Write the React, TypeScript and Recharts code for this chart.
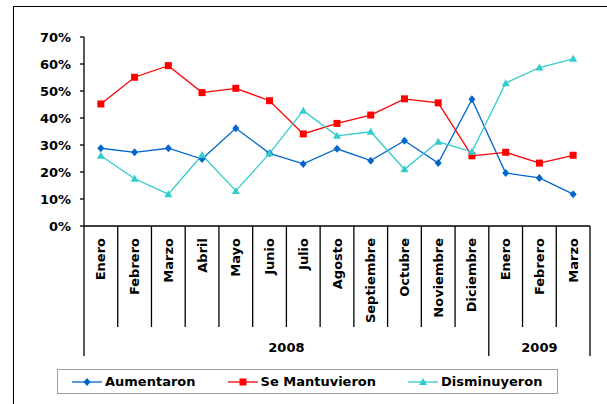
import { LineChart, Line, XAxis, YAxis } from 'recharts';

const months = ['Enero', 'Febrero', 'Marzo', 'Abril', 'Mayo', 'Junio', 'Julio', 'Agosto', 'Septiembre', 'Octubre', 'Noviembre', 'Diciembre', 'Enero', 'Febrero', 'Marzo'];
const years = ['2008', '2009'];
const monthsPerYear = [12, 3];

const aumentaron = [28.8, 27.3, 28.8, 24.8, 36.2, 26.9, 23.0, 28.6, 24.2, 31.6, 23.3, 46.9, 19.6, 17.8, 11.8];
const seMantuvieron = [45.2, 55.1, 59.4, 49.4, 51.0, 46.4, 34.1, 38.0, 41.1, 47.1, 45.6, 26.0, 27.3, 23.3, 26.2];
const disminuyeron = [26.0, 17.5, 11.8, 26.3, 13.0, 26.9, 42.7, 33.4, 34.9, 21.0, 31.2, 27.5, 52.9, 58.7, 61.9];

const yTicks = [0, 10, 20, 30, 40, 50, 60, 70];

const W = 607;
const H = 404;
const M = { top: 37, right: 17, bottom: 0, left: 0 };
const Y_AXIS_W = 84;
const PLOT_W = W - M.left - M.right - Y_AXIS_W;
const BAND = PLOT_W / months.length;
const FONT = '"DejaVu Sans", Verdana, sans-serif';

const data = months.map((m, i) => ({
  k: i,
  month: m,
  aumentaron: aumentaron[i],
  seMantuvieron: seMantuvieron[i],
  disminuyeron: disminuyeron[i],
}));

const groupStarts: number[] = [];
const groupEnds: number[] = [];
monthsPerYear.reduce((acc, n) => {
  groupStarts.push(acc);
  groupEnds.push(acc + n);
  return acc + n;
}, 0);

function MonthTick(props: any) {
  const { x, y, payload } = props;
  const i = payload.index;
  const band = BAND;
  const isEnd = groupEnds.includes(i + 1);
  const g = groupStarts.indexOf(i);
  const tx = x + 4.5;
  const ty = y + 12;
  return (
    <g>
      {i === 0 && <line x1={x - band / 2} x2={x - band / 2} y1={y} y2={y + 130} stroke="#000" strokeWidth={1.3} />}
      <line x1={x + band / 2} x2={x + band / 2} y1={y} y2={y + (isEnd ? 130 : 101)} stroke="#000" strokeWidth={1.3} />
      <text x={tx} y={ty} transform={`rotate(-90, ${tx}, ${ty})`} textAnchor="end" fontFamily={FONT} fontWeight="bold" fontSize={13} fill="#000">
        {months[i]}
      </text>
      {g >= 0 && (
        <text x={x - band / 2 + (monthsPerYear[g] * band) / 2} y={y + 126} textAnchor="middle" fontFamily={FONT} fontWeight="bold" fontSize={13} fill="#000">
          {years[g]}
        </text>
      )}
    </g>
  );
}

const Diamond = (color: string) => (p: any) => (
  <path key={p.index} d={`M${p.cx},${p.cy - 4} L${p.cx + 3.5},${p.cy} L${p.cx},${p.cy + 4} L${p.cx - 3.5},${p.cy} Z`} fill={color} />
);
const Square = (color: string) => (p: any) => (
  <rect key={p.index} x={p.cx - 3.5} y={p.cy - 3.5} width={7} height={7} fill={color} />
);
const Triangle = (color: string) => (p: any) => (
  <path key={p.index} d={`M${p.cx},${p.cy - 4} L${p.cx + 4},${p.cy + 3} L${p.cx - 4},${p.cy + 3} Z`} fill={color} />
);

const series = [
  { key: 'aumentaron', name: 'Aumentaron', color: '#0066CC', dot: Diamond },
  { key: 'seMantuvieron', name: 'Se Mantuvieron', color: '#FF0000', dot: Square },
  { key: 'disminuyeron', name: 'Disminuyeron', color: '#33CCCC', dot: Triangle },
];

function LegendIcon({ color, dot }: { color: string; dot: any }) {
  return (
    <svg width={30} height={12} style={{ display: 'block' }}>
      <line x1={0} x2={30} y1={6} y2={6} stroke={color} strokeWidth={1.3} />
      {dot(color)({ cx: 15, cy: 6, index: 0 })}
    </svg>
  );
}

export default function App() {
  return (
    <div style={{ position: 'absolute', left: 0, top: 0, width: W, height: H, background: '#fff', overflow: 'hidden' }}>
      <div style={{ position: 'absolute', left: 13, top: 6, width: 620, height: 420, border: '1.5px solid #000', boxSizing: 'border-box' }} />
      <div style={{ position: 'absolute', left: 0, top: 0 }}>
        <LineChart width={W} height={H} data={data} margin={M}>
          <XAxis
            dataKey="k"
            type="category"
            height={H - 226}
            interval={0}
            padding={{ left: BAND / 2, right: BAND / 2 }}
            tickLine={false}
            tickSize={0}
            tickMargin={0}
            axisLine={{ stroke: '#000', strokeWidth: 1.3 }}
            tick={<MonthTick />}
          />
          <YAxis
            width={Y_AXIS_W}
            domain={[0, 70]}
            ticks={yTicks}
            interval={0}
            tickFormatter={(v: number) => `${v}%`}
            tickSize={4}
            tickMargin={9}
            tickLine={{ stroke: '#000', strokeWidth: 1.3 }}
            axisLine={{ stroke: '#000', strokeWidth: 1.3 }}
            tick={{ fill: '#000', fontFamily: FONT, fontWeight: 'bold', fontSize: 13 }}
          />
          {series.map((s) => (
            <Line
              key={s.key}
              dataKey={s.key}
              name={s.name}
              stroke={s.color}
              strokeWidth={1.3}
              dot={s.dot(s.color)}
              activeDot={false}
              isAnimationActive={false}
            />
          ))}
        </LineChart>
      </div>
      <div
        style={{
          position: 'absolute',
          left: 57,
          top: 369,
          width: 501,
          height: 25,
          border: '1.5px solid #a0a0a0',
          boxSizing: 'border-box',
          display: 'flex',
          alignItems: 'center',
          paddingLeft: 14,
          fontFamily: FONT,
          fontWeight: 'bold',
          fontSize: 13,
          color: '#000',
        }}
      >
        {series.map((s, i) => (
          <div key={s.key} style={{ display: 'flex', alignItems: 'center', marginLeft: i === 0 ? 0 : 32 }}>
            <LegendIcon color={s.color} dot={s.dot} />
            <span style={{ marginLeft: 3 }}>{s.name}</span>
          </div>
        ))}
      </div>
    </div>
  );
}
